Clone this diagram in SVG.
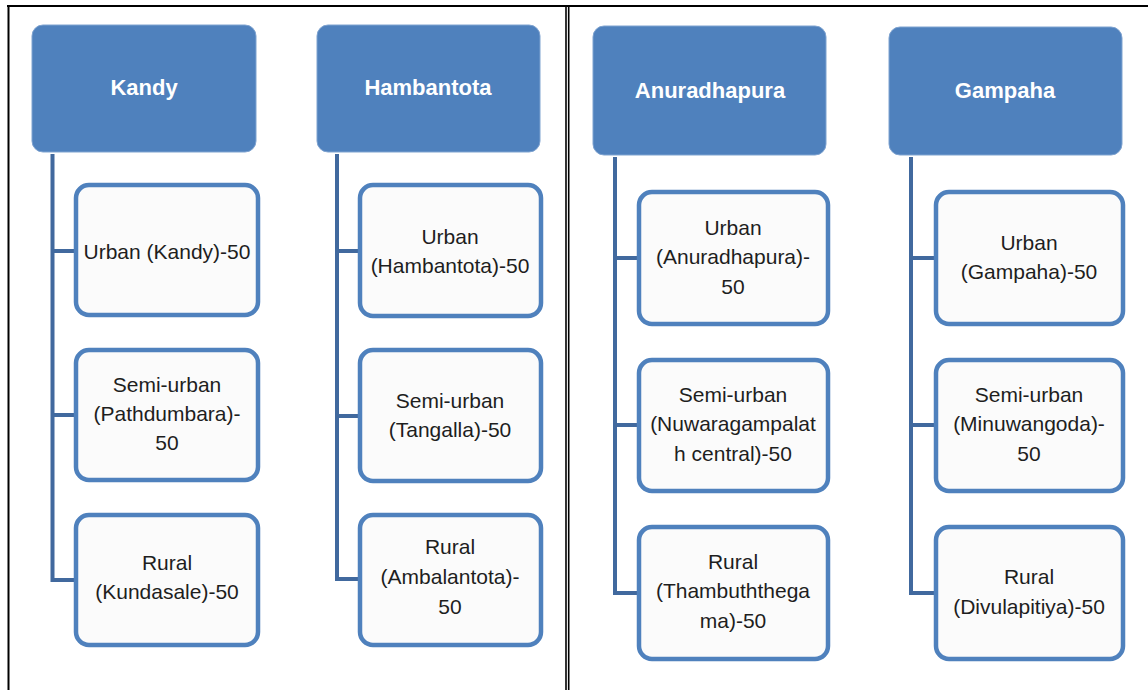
<svg xmlns="http://www.w3.org/2000/svg" width="1148" height="690" viewBox="0 0 1148 690">
<style>
.hdr{fill:#4F81BD;stroke:#7FA3D0;stroke-width:1}
.ch{fill:#FBFBFB;stroke:#4F81BD;stroke-width:4.5}
.conn{fill:none;stroke:#41699E;stroke-width:4;stroke-linejoin:miter}
.ht{font-family:"Liberation Sans",Arial,sans-serif;font-weight:bold;font-size:22px;fill:#FFFFFF;text-anchor:middle}
.ct{font-family:"Liberation Sans",Arial,sans-serif;font-size:21px;fill:#1E1E1E;text-anchor:middle}
.frame{stroke:#000;fill:none}
</style>
<rect x="0" y="0" width="1148" height="690" fill="#FFFFFF"/>
<g id="frame">
<line class="frame" x1="7" y1="6" x2="1148" y2="6" stroke-width="2.2"/>
<line class="frame" x1="8.5" y1="5" x2="8.5" y2="690" stroke-width="2"/>
<line class="frame" x1="566" y1="5" x2="566" y2="690" stroke-width="1.6"/>
<line class="frame" x1="568.7" y1="5" x2="568.7" y2="690" stroke-width="1.6"/>
</g>
<g id="connectors">
<path class="conn" d="M52.5 154 V580 H76 M52.5 251 H76 M52.5 415 H76"/>
<path class="conn" d="M337 154 V579 H360 M337 251 H360 M337 416 H360"/>
<path class="conn" d="M615 157 V593 H639 M615 258 H639 M615 425 H639"/>
<path class="conn" d="M911 157 V593 H936 M911 258 H936 M911 425 H936"/>
</g>
<g id="kandy">
<rect class="hdr" x="32" y="25" width="224" height="127" rx="11"/>
<text class="ht" x="144" y="95">Kandy</text>
</g>
<g id="kandy-urban">
<rect class="ch" x="76" y="185" width="182" height="130" rx="13"/>
<text class="ct" x="167" y="259">Urban (Kandy)-50</text>
</g>
<g id="kandy-semiurban">
<rect class="ch" x="76" y="350" width="182" height="130" rx="13"/>
<text class="ct" x="167" y="392">Semi-urban</text>
<text class="ct" x="167" y="421">(Pathdumbara)-</text>
<text class="ct" x="167" y="450">50</text>
</g>
<g id="kandy-rural">
<rect class="ch" x="76" y="515" width="182" height="130" rx="13"/>
<text class="ct" x="167" y="570">Rural</text>
<text class="ct" x="167" y="599">(Kundasale)-50</text>
</g>
<g id="hambantota">
<rect class="hdr" x="317" y="25" width="223" height="127" rx="11"/>
<text class="ht" x="428" y="95">Hambantota</text>
</g>
<g id="hambantota-urban">
<rect class="ch" x="360" y="185" width="181" height="131" rx="13"/>
<text class="ct" x="450" y="244">Urban</text>
<text class="ct" x="450" y="273">(Hambantota)-50</text>
</g>
<g id="hambantota-semiurban">
<rect class="ch" x="360" y="350" width="181" height="131" rx="13"/>
<text class="ct" x="450" y="408">Semi-urban</text>
<text class="ct" x="450" y="437">(Tangalla)-50</text>
</g>
<g id="hambantota-rural">
<rect class="ch" x="360" y="515" width="181" height="130" rx="13"/>
<text class="ct" x="450" y="554">Rural</text>
<text class="ct" x="450" y="584">(Ambalantota)-</text>
<text class="ct" x="450" y="614">50</text>
</g>
<g id="anuradhapura">
<rect class="hdr" x="593" y="26" width="233" height="129" rx="11"/>
<text class="ht" x="710" y="98">Anuradhapura</text>
</g>
<g id="anuradhapura-urban">
<rect class="ch" x="639" y="192" width="189" height="132" rx="13"/>
<text class="ct" x="733" y="235">Urban</text>
<text class="ct" x="733" y="264">(Anuradhapura)-</text>
<text class="ct" x="733" y="294">50</text>
</g>
<g id="anuradhapura-semiurban">
<rect class="ch" x="639" y="360" width="189" height="131" rx="13"/>
<text class="ct" x="733" y="402">Semi-urban</text>
<text class="ct" x="733" y="431">(Nuwaragampalat</text>
<text class="ct" x="733" y="461">h central)-50</text>
</g>
<g id="anuradhapura-rural">
<rect class="ch" x="639" y="527" width="189" height="132" rx="13"/>
<text class="ct" x="733" y="569">Rural</text>
<text class="ct" x="733" y="598">(Thambuththega</text>
<text class="ct" x="733" y="628">ma)-50</text>
</g>
<g id="gampaha">
<rect class="hdr" x="889" y="27" width="233" height="128" rx="11"/>
<text class="ht" x="1005" y="98">Gampaha</text>
</g>
<g id="gampaha-urban">
<rect class="ch" x="936" y="192" width="187" height="132" rx="13"/>
<text class="ct" x="1029" y="250">Urban</text>
<text class="ct" x="1029" y="279">(Gampaha)-50</text>
</g>
<g id="gampaha-semiurban">
<rect class="ch" x="936" y="360" width="187" height="131" rx="13"/>
<text class="ct" x="1029" y="402">Semi-urban</text>
<text class="ct" x="1029" y="431">(Minuwangoda)-</text>
<text class="ct" x="1029" y="461">50</text>
</g>
<g id="gampaha-rural">
<rect class="ch" x="936" y="527" width="187" height="132" rx="13"/>
<text class="ct" x="1029" y="584">Rural</text>
<text class="ct" x="1029" y="614">(Divulapitiya)-50</text>
</g>
</svg>
